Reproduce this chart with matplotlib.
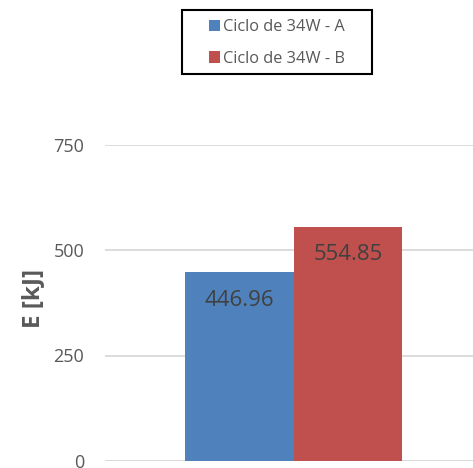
import matplotlib.pyplot as plt
from matplotlib.patches import Patch, Rectangle

plt.rcParams['font.family'] = ['Open Sans', 'DejaVu Sans']

# DATA -------------------
series = ["Ciclo de 34W - A", "Ciclo de 34W - B"]
energy_kj = [446.96, 554.85]
colors = ["#4F81BD", "#C0504D"]
y_ticks = [0, 250, 500, 750]

TEXT = "#595959"
GRID = "#D9D9D9"

# PLOTTING -------------------
fig = plt.figure(figsize=(4.73, 4.68), dpi=100)
W, H = 473, 468
left, right, top, bottom = 105, 473, 144.5, 461
ax = fig.add_axes([left / W, 1 - bottom / H, (right - left) / W, (bottom - top) / H])

positions = list(range(len(series)))
bars = ax.bar(positions, energy_kj, width=1.0, color=colors, zorder=3)

for b, v in zip(bars, energy_kj):
    ax.annotate(f"{v:.2f}", (b.get_x() + b.get_width() / 2, v),
                xytext=(0, -20), textcoords="offset points",
                ha="center", va="center", fontsize=16, color="#404040", zorder=4)

ax.set_ylim(0, 750)
ax.set_xlim(-1.237, 2.154)
ax.set_yticks(y_ticks)
ax.set_xticks([])
ax.yaxis.grid(True, color=GRID, linewidth=1.3, zorder=0)
ax.tick_params(axis="y", length=0, pad=15, labelsize=13, labelcolor=TEXT)
for s in ax.spines.values():
    s.set_visible(False)
ax.axhline(0, color=GRID, linewidth=1.3, zorder=2)

ax.set_ylabel("E [kJ]", fontsize=17.5, fontweight="bold", color=TEXT)
ax.yaxis.set_label_coords(-0.163, 0.515)

# legend box above the plot, frame drawn separately for wider side padding
fig.patches.append(Rectangle((182 / W, 1 - 74 / H), 190 / W, 64 / H,
                             transform=fig.transFigure, fill=False,
                             edgecolor="black", linewidth=1.5))
handles = [Patch(facecolor=c, edgecolor="none") for c in colors]
leg = fig.legend(handles, series, loc="center",
                 bbox_to_anchor=(277 / W, 1 - 43 / H),
                 fontsize=11.8, frameon=False,
                 handlelength=0.7, handleheight=0.7, handletextpad=0.2,
                 labelspacing=0.95, borderpad=0, borderaxespad=0)
for t in leg.get_texts():
    t.set_color(TEXT)

plt.savefig("out.png", dpi=100)
